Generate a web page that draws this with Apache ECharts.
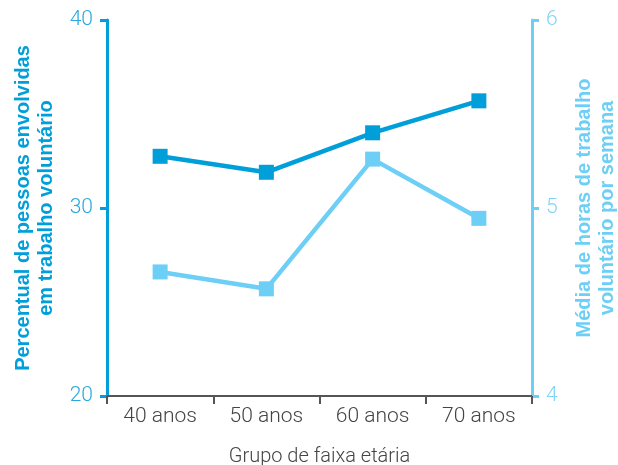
<!DOCTYPE html>
<html>
<head>
<meta charset="utf-8">
<script src="https://cdn.jsdelivr.net/npm/echarts@6/dist/echarts.min.js"></script>
<style>
  html, body { margin: 0; padding: 0; background: #fff; }
  #chart { width: 618px; height: 465px; }
</style>
</head>
<body>
<div id="chart"></div>
<script>
// Age groups on the x axis
const categories = ['40 anos', '50 anos', '60 anos', '70 anos'];
// Share of people doing volunteer work (%) — left axis
const percentVoluntarios = [32.75, 31.9, 34.0, 35.7];
// Average weekly volunteer hours — right axis
const mediaHoras = [4.66, 4.57, 5.26, 4.945];
// Axis tick ranges
const leftTicks = { min: 20, max: 40, interval: 10 };
const rightTicks = { min: 4, max: 6, interval: 1 };

const darkBlue = '#009fda';
const lightBlue = '#6dcff6';
const tickFont = 'Roboto, "Liberation Sans", sans-serif';
const nameFont = '"Liberation Sans", Arial, sans-serif';

const chart = echarts.init(document.getElementById('chart'), null, { renderer: 'canvas' });
chart.setOption({
  animation: false,
  backgroundColor: '#fff',
  grid: { left: 107, right: 86, top: 20, bottom: 69, containLabel: false, outerBoundsMode: 'none' },
  xAxis: {
    type: 'category',
    data: categories,
    boundaryGap: true,
    name: 'Grupo de faixa etária',
    nameLocation: 'middle',
    nameGap: 51,
    nameTextStyle: { color: '#444', fontSize: 20, fontFamily: tickFont, fontWeight: 300 },
    axisLine: { lineStyle: { color: '#555', width: 2 } },
    axisTick: { show: true, length: 8, lineStyle: { color: '#555', width: 2 } },
    axisLabel: { color: '#444', fontSize: 21, fontFamily: tickFont, fontWeight: 300, margin: 10 },
    splitLine: { show: false }
  },
  yAxis: [
    {
      type: 'value',
      position: 'left',
      min: leftTicks.min, max: leftTicks.max, interval: leftTicks.interval,
      name: 'Percentual de pessoas envolvidas\nem trabalho voluntário',
      nameLocation: 'middle',
      nameRotate: 90,
      nameGap: 49,
      nameTextStyle: { color: darkBlue, fontSize: 20, fontWeight: 'bold', fontFamily: nameFont, lineHeight: 23 },
      axisLine: { show: true, lineStyle: { color: darkBlue, width: 3 } },
      axisTick: { show: true, length: 7, lineStyle: { color: darkBlue, width: 3 } },
      axisLabel: { color: '#2aa8dd', fontSize: 21, fontFamily: tickFont, fontWeight: 300, margin: 14 },
      splitLine: { show: false }
    },
    {
      type: 'value',
      position: 'right',
      min: rightTicks.min, max: rightTicks.max, interval: rightTicks.interval,
      name: 'Média de horas de trabalho\nvoluntário por semana',
      nameLocation: 'middle',
      nameRotate: 90,
      nameGap: 41,
      nameTextStyle: { color: lightBlue, fontSize: 20, fontWeight: 'bold', fontFamily: nameFont, lineHeight: 23 },
      axisLine: { show: true, lineStyle: { color: lightBlue, width: 3 } },
      axisTick: { show: true, length: 7, lineStyle: { color: lightBlue, width: 3 } },
      axisLabel: { color: '#7fd4f5', fontSize: 21, fontFamily: tickFont, fontWeight: 300, margin: 14 },
      splitLine: { show: false }
    }
  ],
  series: [
    {
      name: 'Horas',
      type: 'line',
      yAxisIndex: 1,
      data: mediaHoras,
      symbol: 'rect',
      symbolSize: 15,
      lineStyle: { color: lightBlue, width: 4.5 },
      itemStyle: { color: lightBlue },
      z: 2
    },
    {
      name: 'Percentual',
      type: 'line',
      yAxisIndex: 0,
      data: percentVoluntarios,
      symbol: 'rect',
      symbolSize: 15,
      lineStyle: { color: darkBlue, width: 4.5 },
      itemStyle: { color: darkBlue },
      z: 3
    }
  ]
});
</script>
</body>
</html>
